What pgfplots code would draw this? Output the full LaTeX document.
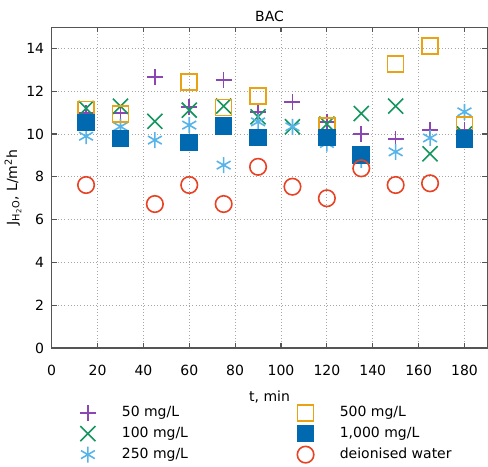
\documentclass[border=0pt]{standalone}
\usepackage{pgfplots}
\pgfplotsset{compat=1.18}
\usepackage{fontspec}
\setmainfont{DejaVu Sans}

\definecolor{cA}{RGB}{140,70,180}
\definecolor{cB}{RGB}{20,150,95}
\definecolor{cC}{RGB}{86,180,233}
\definecolor{cD}{RGB}{232,162,20}
\definecolor{cE}{RGB}{0,105,175}
\definecolor{cF}{RGB}{232,65,35}
\definecolor{frame}{RGB}{85,85,85}

% plus sign that sets its own stroke colour
\pgfdeclareplotmark{pplus}{%
  \pgfsetstrokecolor{cA}%
  \pgfpathmoveto{\pgfqpoint{-\pgfplotmarksize}{0pt}}%
  \pgfpathlineto{\pgfqpoint{\pgfplotmarksize}{0pt}}%
  \pgfpathmoveto{\pgfqpoint{0pt}{-\pgfplotmarksize}}%
  \pgfpathlineto{\pgfqpoint{0pt}{\pgfplotmarksize}}%
  \pgfusepathqstroke}

\pgfplotsset{
  s50/.style={only marks, mark=pplus, mark size=6pt, color=cA, line width=1.2pt},
  s100/.style={only marks, mark=x, mark size=8pt, color=cB, line width=1.2pt},
  s250/.style={only marks, mark=asterisk, mark size=6pt, color=cC, line width=1.2pt},
  s500/.style={only marks, mark=square, mark size=6pt, color=cD, line width=1.2pt},
  s1000/.style={only marks, mark=square*, mark size=6pt, color=cE, line width=1.2pt},
  sDI/.style={only marks, mark=o, mark size=6.2pt, color=cF, line width=1.2pt},
}

\begin{document}
\fontsize{10.5}{12}\selectfont
\begin{tikzpicture}
\begin{axis}[
  scale only axis,
  width=327pt, height=240.75pt,
  xmin=0, xmax=190, ymin=0, ymax=15,
  xtick={0,20,...,180}, ytick={0,2,...,14},
  tick align=inside, major tick length=4pt,
  tick style={frame, line width=0.9pt},
  axis line style={frame, line width=0.9pt},
  grid=major,
  major grid style={gray!70, dotted, line width=0.7pt},
  /pgf/number format/assume math mode=true,
  tick label style={font=\fontsize{10.5}{12}\selectfont},
  xticklabel style={yshift=-9pt},
  yticklabel style={xshift=-2pt},
  title={BAC}, title style={yshift=-5.5pt},
  xlabel={t, min}, xlabel style={yshift=-4pt},
  ylabel={J\textsubscript{H\textsubscript{2}O}, L/m\textsuperscript{2}h},
  ylabel style={yshift=-3.5pt},
  legend columns=2,
  legend cell align=left,
  legend style={draw=none, fill=none, at={(axis description cs:0.055,-0.165)}, anchor=north west,
    font=\fontsize{10.5}{12}\selectfont, row sep=2.3pt,
    /tikz/every odd column/.append style={column sep=17.5pt},
    /tikz/every even column/.append style={column sep=80pt}},
  legend image code/.code={\draw[#1] plot coordinates {(0.45cm,0cm)};},
]
% 50 mg/L
\addplot[s50, forget plot] coordinates {
 (15,11.0) (30,11.0) (45,12.68) (60,11.28) (75,12.52) (90,11.04) (105,11.51)
 (120,10.57) (135,10.0) (150,9.78) (165,10.2) (180,10.2)};
% 100 mg/L
\addplot[s100, forget plot] coordinates {
 (15,11.2) (30,11.3) (45,10.6) (60,11.12) (75,11.31) (90,10.81) (105,10.34)
 (120,10.47) (135,10.96) (150,11.31) (165,9.08) (180,10.0)};
% 250 mg/L
\addplot[s250, forget plot] coordinates {
 (15,9.9) (30,10.35) (45,9.72) (60,10.42) (75,8.55) (90,10.57) (105,10.34)
 (120,9.56) (135,8.8) (150,9.17) (165,9.82) (180,11.04)};
% 500 mg/L
\addplot[s500, forget plot] coordinates {
 (15,11.15) (30,10.95) (60,12.44) (75,11.25) (90,11.78) (120,10.37)
 (150,13.27) (165,14.11) (180,10.42)};
% 1,000 mg/L
\addplot[s1000, forget plot] coordinates {
 (15,10.55) (30,9.8) (60,9.6) (75,10.37) (90,9.84) (120,9.84) (135,9.02) (180,9.76)};
% deionised water
\addplot[sDI, forget plot] coordinates {
 (15,7.62) (45,6.73) (60,7.62) (75,6.73) (90,8.47) (105,7.54) (120,7.0)
 (135,8.4) (150,7.62) (165,7.7)};

\addlegendimage{s50}
\addlegendentry{50 mg/L}
\addlegendimage{s500}
\addlegendentry{500 mg/L}
\addlegendimage{s100}
\addlegendentry{100 mg/L}
\addlegendimage{s1000}
\addlegendentry{1,000 mg/L}
\addlegendimage{s250}
\addlegendentry{250 mg/L}
\addlegendimage{sDI}
\addlegendentry{deionised water}
\end{axis}
\path ([yshift=4.75pt]current bounding box.north);
\end{tikzpicture}
\end{document}
